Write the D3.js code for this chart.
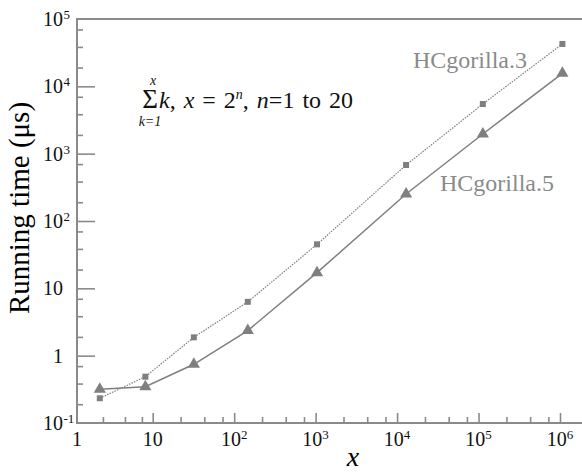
<!DOCTYPE html>
<html>
<head>
<meta charset="utf-8">
<script src="https://cdn.jsdelivr.net/npm/d3@7"></script>
<style>
  body { margin: 0; background: #fff; }
  svg { display: block; font-family: "Liberation Serif", "Times New Roman", serif; }
</style>
</head>
<body>
<div id="chart"></div>
<script>
// values
var xValues = [2, 8, 32, 147, 1040, 12900, 113000, 1070000];
var hc3Values = [0.233, 0.487, 1.87, 6.3, 45, 679, 5470, 42600];
var hc5Values = [0.316, 0.346, 0.745, 2.36, 17.1, 252, 1960, 15600];
var seriesNames = ["HCgorilla.3", "HCgorilla.5"];
var xTickExp = [0, 1, 2, 3, 4, 5, 6];
var yTickExp = [-1, 0, 1, 2, 3, 4, 5];
var xMinor = [2.2, 4.3, 7.2];
var yMinor = [1.9, 3.85, 7];

var width = 582, height = 472;
var plotLeft = 77, plotTop = 19, plotBottom = 423;
var axisColor = "#8a8a8a", markColor = "#7f7f7f";

var svg = d3.select("#chart")
  .append("svg")
    .attr("width", width)
    .attr("height", height);

svg.append("rect").attr("width", width).attr("height", height).attr("fill", "#fff");

// x axis of the original is a little squeezed in the first decade
var x = d3.scaleLog()
    .domain([1, 10, 1e6])
    .range([plotLeft, 152.7, 560]);
var y = d3.scaleLog()
    .domain([0.1, 1e5])
    .range([plotBottom, plotTop]);

var xMajor = xTickExp.map(function(e) { return Math.pow(10, e); });
var yMajor = yTickExp.map(function(e) { return Math.pow(10, e); });
var xMinorVals = [], yMinorVals = [];
xTickExp.slice(0, -1).forEach(function(e) {
  xMinor.forEach(function(m) { xMinorVals.push(m * Math.pow(10, e)); });
});
yTickExp.slice(0, -1).forEach(function(e) {
  yMinor.forEach(function(m) { yMinorVals.push(m * Math.pow(10, e)); });
});

// ticks (inward)
function styleAxis(g) {
  g.select(".domain").remove();
  g.selectAll("line").attr("stroke", axisColor).attr("stroke-width", 1.6);
  g.selectAll("text").remove();
}
svg.append("g")
    .attr("transform", "translate(0," + plotBottom + ")")
    .call(d3.axisBottom(x).tickValues(xMajor.slice(1)).tickSize(-10).tickFormat(""))
    .call(styleAxis);
svg.append("g")
    .attr("transform", "translate(0," + plotBottom + ")")
    .call(d3.axisBottom(x).tickValues(xMinorVals).tickSize(-6).tickFormat(""))
    .call(styleAxis);
svg.append("g")
    .attr("transform", "translate(" + plotLeft + ",0)")
    .call(d3.axisLeft(y).tickValues(yMajor.slice(1, -1)).tickSize(-18).tickFormat(""))
    .call(styleAxis);
svg.append("g")
    .attr("transform", "translate(" + plotLeft + ",0)")
    .call(d3.axisLeft(y).tickValues(yMinorVals).tickSize(-6).tickFormat(""))
    .call(styleAxis);

// frame: left, bottom, top
svg.append("path")
    .attr("d", "M" + width + "," + plotTop + "H" + plotLeft + "V" + plotBottom + "H" + width)
    .attr("fill", "none")
    .attr("stroke", axisColor)
    .attr("stroke-width", 2);

// x tick labels
xTickExp.forEach(function(e) {
  var t = svg.append("text")
      .attr("x", x(Math.pow(10, e)))
      .attr("y", 446)
      .attr("text-anchor", "middle")
      .style("font-size", "20px")
      .attr("fill", "#111");
  if (e == 0) t.text("1");
  else if (e == 1) t.text("10");
  else {
    t.append("tspan").text("10");
    t.append("tspan").attr("dy", -7).style("font-size", "13px").text(e);
  }
});

// y tick labels
yTickExp.forEach(function(e) {
  var yy = y(Math.pow(10, e)) + 7;
  svg.append("text")
      .attr("x", 63)
      .attr("y", yy)
      .attr("text-anchor", "end")
      .style("font-size", "20px")
      .attr("fill", "#111")
      .text(e == 0 ? "1" : "10");
  if (e != 0 && e != 1) {
    svg.append("text")
        .attr("x", 63.5)
        .attr("y", yy - 7)
        .style("font-size", "13px")
        .attr("fill", "#111")
        .text(e < 0 ? "-" + (-e) : e);
  }
});

// axis titles
svg.append("text")
    .attr("x", 353)
    .attr("y", 466)
    .attr("text-anchor", "middle")
    .style("font-size", "28px")
    .style("font-style", "italic")
    .text("x");
svg.append("text")
    .attr("transform", "translate(29,208) rotate(-90)")
    .attr("text-anchor", "middle")
    .style("font-size", "29px")
    .text("Running time (μs)");

// lines
var lineFn = d3.line()
    .x(function(d, i) { return x(xValues[i]); })
    .y(function(d) { return y(d); });
svg.append("path")
    .datum(hc3Values)
    .attr("fill", "none")
    .attr("stroke", markColor)
    .attr("stroke-width", 1.2)
    .attr("stroke-dasharray", "1.5,1.2")
    .attr("d", lineFn);
svg.append("path")
    .datum(hc5Values)
    .attr("fill", "none")
    .attr("stroke", markColor)
    .attr("stroke-width", 1.5)
    .attr("d", lineFn);

// markers
svg.append("g")
  .selectAll("path")
  .data(hc3Values)
  .enter()
  .append("path")
    .attr("transform", function(d, i) { return "translate(" + x(xValues[i]) + "," + y(d) + ")"; })
    .attr("d", d3.symbol().type(d3.symbolSquare).size(36))
    .attr("fill", markColor);
svg.append("g")
  .selectAll("path")
  .data(hc5Values)
  .enter()
  .append("path")
    .attr("transform", function(d, i) { return "translate(" + x(xValues[i]) + "," + y(d) + ")"; })
    .attr("d", d3.symbol().type(d3.symbolTriangle).size(64))
    .attr("fill", markColor);

// series labels
svg.append("text")
    .attr("x", 413).attr("y", 68)
    .style("font-size", "24px")
    .attr("fill", "#8a8a8a")
    .text(seriesNames[0]);
svg.append("text")
    .attr("x", 440).attr("y", 191)
    .style("font-size", "24px")
    .attr("fill", "#8a8a8a")
    .text(seriesNames[1]);

// formula annotation
var note = svg.append("g")
    .attr("fill", "#111")
    .style("font-family", "'Liberation Serif', 'Times New Roman', serif");
note.append("text")
    .attr("x", 150).attr("y", 108)
    .attr("text-anchor", "middle")
    .style("font-size", "27px")
    .text("Σ");
note.append("text")
    .attr("x", 153).attr("y", 85)
    .attr("text-anchor", "middle")
    .style("font-size", "14px")
    .style("font-style", "italic")
    .text("x");
note.append("text")
    .attr("x", 150).attr("y", 126)
    .attr("text-anchor", "middle")
    .style("font-size", "14px")
    .style("font-style", "italic")
    .text("k=1");
var f = note.append("text")
    .attr("x", 159).attr("y", 108)
    .style("font-size", "24px")
    .style("word-spacing", "2px");
f.append("tspan").style("font-style", "italic").text("k");
f.append("tspan").text(", ");
f.append("tspan").style("font-style", "italic").text("x");
f.append("tspan").text(" = 2");
f.append("tspan").attr("dy", -9).style("font-size", "14px").style("font-style", "italic").text("n");
f.append("tspan").attr("dy", 9).text(", ");
f.append("tspan").style("font-style", "italic").text("n");
f.append("tspan").text("=1 to 20");
</script>
</body>
</html>
